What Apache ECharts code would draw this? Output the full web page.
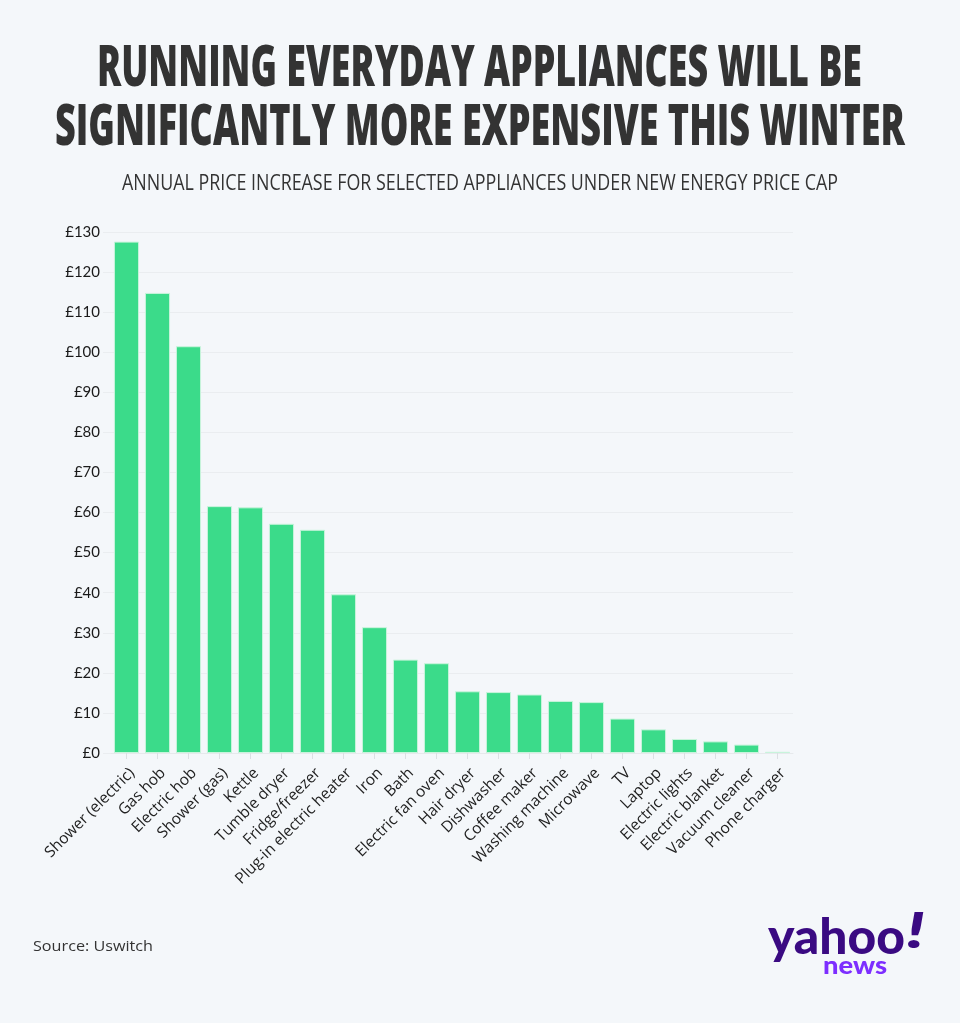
<!DOCTYPE html>
<html>
<head>
<meta charset="utf-8">
<script src="https://cdn.jsdelivr.net/npm/echarts@6/dist/echarts.min.js"></script>
<style>
html,body{margin:0;padding:0;background:#f4f7fa;}
#c{width:960px;height:1023px;}
</style>
</head>
<body>
<div id="c"></div>
<script>
const categories = ["Shower (electric)","Gas hob","Electric hob","Shower (gas)","Kettle","Tumble dryer","Fridge/freezer","Plug-in electric heater","Iron","Bath","Electric fan oven","Hair dryer","Dishwasher","Coffee maker","Washing machine","Microwave","TV","Laptop","Electric lights","Electric blanket","Vacuum cleaner","Phone charger"];
const values = [127.6,114.8,101.5,61.6,61.3,57.2,55.7,39.6,31.4,23.3,22.4,15.4,15.2,14.6,13.0,12.7,8.6,5.9,3.5,2.9,2.1,0.3];
const titleLines = ["RUNNING EVERYDAY APPLIANCES WILL BE","SIGNIFICANTLY MORE EXPENSIVE THIS WINTER"];
const subtitle = "ANNUAL PRICE INCREASE FOR SELECTED APPLIANCES UNDER NEW ENERGY PRICE CAP";
const sourceText = "Source: Uswitch";

const cv = document.createElement('canvas').getContext('2d');
function fitScale(text, font, w){ cv.font = font; return w / cv.measureText(text).width; }

function fitText(text, left, right, y, size, family, weight, fill){
  const font = weight + ' ' + size + 'px ' + family;
  const s = fitScale(text, font, right - left);
  return {type:'text', x:left, y:y, scaleX:s, silent:true,
    style:{text:text, x:0, y:0, font:font, fill:fill, textAlign:'left', textVerticalAlign:'middle'}};
}

const chart = echarts.init(document.getElementById('c'), null, {renderer:'canvas'});
chart.setOption({
  backgroundColor:'#f4f7fa',
  animation:false,
  grid:{left:111, right:167, top:232, bottom:270, containLabel:false},
  xAxis:{
    type:'category', data:categories,
    axisLine:{show:true, lineStyle:{color:'#e6e9ec'}},
    axisTick:{show:true, alignWithLabel:true, length:6, lineStyle:{color:'#dcdfe3'}},
    axisLabel:{rotate:45, interval:0, margin:12, verticalAlign:'top', fontFamily:'Open Sans', fontSize:15.5, color:'#222'}
  },
  yAxis:{
    type:'value', min:0, max:130, interval:10,
    axisLine:{show:false},
    axisTick:{show:true, length:8, lineStyle:{color:'#eaedf0'}},
    splitLine:{lineStyle:{color:'#eaedf0'}},
    axisLabel:{formatter:'£{value}', margin:11, fontFamily:'Lato', fontSize:15, color:'#1a1a1a'}
  },
  series:[{
    type:'bar', data:values, barCategoryGap:'19%',
    itemStyle:{color:'#3bdb8a', borderColor:'#c9f4dc', borderWidth:1}
  }],
  graphic:[
    fitText(titleLines[0], 97, 862, 70, 56, 'Open Sans', '800', '#333333'),
    fitText(titleLines[1], 55, 905, 129, 56, 'Open Sans', '800', '#333333'),
    fitText(subtitle, 122, 838, 184, 22, 'Open Sans', 'normal', '#333333'),
    fitText(sourceText, 33, 153, 947, 15, 'Open Sans', 'normal', '#333333'),
    fitText('yahoo', 768, 905, 938, 50, 'Lato', '900', '#3a0a82'),
    fitText('!', 906, 925, 932, 50, 'Lato', '900 italic', '#3a0a82'),
    fitText('news', 823, 887, 966, 24, 'Lato', '900', '#7d2eff')
  ]
});
</script>
</body>
</html>
